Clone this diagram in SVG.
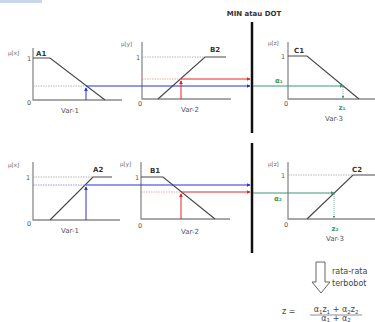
<svg xmlns="http://www.w3.org/2000/svg" width="375" height="322" viewBox="0 0 375 322">
<defs>
<style>
.ax{stroke:#8a8a8a;stroke-width:1.3;fill:none}
.fn{stroke:#4a4a4a;stroke-width:1.2;fill:none}
.gd{stroke:#999;stroke-width:0.7;stroke-dasharray:1.5,1;fill:none}
.bl{stroke:#2633d6;stroke-width:1;fill:none}
.rd{stroke:#e2242a;stroke-width:1;fill:none}
.gr{stroke:#3a9a72;stroke-width:1;fill:none}
.bld{stroke:#6a70e0;stroke-width:0.7;stroke-dasharray:1.5,1;fill:none}
.rdd{stroke:#f08080;stroke-width:0.7;stroke-dasharray:1.5,1;fill:none}
.grd{stroke:#3a9a72;stroke-width:0.7;stroke-dasharray:1,1;fill:none}
.mu{font-family:"DejaVu Sans",sans-serif;font-size:5.5px;fill:#666}
.nm{font-family:"DejaVu Sans",sans-serif;font-size:7px;font-weight:bold;fill:#333}
.lb{font-family:"DejaVu Sans",sans-serif;font-size:7px;fill:#555}
.tk{font-family:"DejaVu Sans",sans-serif;font-size:6.5px;fill:#555}
.ga{font-family:"DejaVu Sans",sans-serif;font-size:7px;fill:#3a9a52;font-weight:bold}
.tx{font-family:"DejaVu Sans",sans-serif;font-size:8px;fill:#444}
.fm{font-family:"DejaVu Sans",sans-serif;font-size:8px;fill:#444}
.sb{font-size:5.5px}
</style>
<marker id="ab" viewBox="0 0 6 6" refX="5" refY="3" markerWidth="4" markerHeight="4" orient="auto"><path d="M0,0L6,3L0,6z" fill="#2633d6"/></marker>
<marker id="ar" viewBox="0 0 6 6" refX="5" refY="3" markerWidth="4" markerHeight="4" orient="auto"><path d="M0,0L6,3L0,6z" fill="#e2242a"/></marker>
<marker id="ag" viewBox="0 0 6 6" refX="5" refY="3" markerWidth="4" markerHeight="4" orient="auto"><path d="M0,0L6,3L0,6z" fill="#3a9a72"/></marker>
</defs>
<rect x="0" y="0" width="42" height="3" fill="#c8d8e8"/>
<text x="254" y="16" class="nm" text-anchor="middle" font-size="8.3">MIN atau DOT</text>
<g id="divider">
<line x1="252" y1="22" x2="252" y2="133" stroke="#111" stroke-width="2.5"/>
<line x1="252" y1="143" x2="252" y2="253" stroke="#111" stroke-width="2.5"/>
</g>
<g id="A1">
<path class="ax" d="M33,48V100H122"/>
<path class="fn" d="M33,58H50L105,100"/>
<text x="8" y="55" class="mu">μ[x]</text>
<text x="36" y="56" class="nm">A1</text>
<text x="29" y="61" class="tk" text-anchor="middle">1</text>
<text x="29" y="105" class="tk" text-anchor="middle">0</text>
<text x="70" y="113" class="lb" text-anchor="middle">Var-1</text>
</g>
<g id="B2">
<path class="ax" d="M142,42V99H231"/>
<path class="fn" d="M158,99L205,57H226"/>
<text x="121" y="46" class="mu">μ[y]</text>
<text x="210" y="52" class="nm">B2</text>
<text x="138" y="60" class="tk" text-anchor="middle">1</text>
<text x="140" y="106" class="tk" text-anchor="middle">0</text>
<text x="190" y="112" class="lb" text-anchor="middle">Var-2</text>
</g>
<g id="C1">
<path class="ax" d="M288,42V99H375"/>
<path class="fn" d="M288,56H307L359,99"/>
<text x="268" y="45" class="mu">μ[z]</text>
<text x="294" y="53" class="nm">C1</text>
<text x="283" y="59" class="tk" text-anchor="middle">1</text>
<text x="286" y="106" class="tk" text-anchor="middle">0</text>
<text x="275" y="83" class="ga" font-weight="normal">α₁</text>
<text x="342" y="110" class="ga" text-anchor="middle">z₁</text>
<text x="334" y="121" class="lb" text-anchor="middle">Var-3</text>
</g>
<g id="A2">
<path class="ax" d="M33,162V220H120"/>
<path class="fn" d="M50,220L93,177H112"/>
<text x="8" y="167" class="mu">μ[x]</text>
<text x="93" y="172" class="nm">A2</text>
<text x="28" y="180" class="tk" text-anchor="middle">1</text>
<text x="29" y="226" class="tk" text-anchor="middle">0</text>
<text x="70" y="233" class="lb" text-anchor="middle">Var-1</text>
</g>
<g id="B1">
<path class="ax" d="M141,162V219H230"/>
<path class="fn" d="M141,177H163L215,219"/>
<text x="120" y="166" class="mu">μ[y]</text>
<text x="150" y="173" class="nm">B1</text>
<text x="137" y="180" class="tk" text-anchor="middle">1</text>
<text x="140" y="228" class="tk" text-anchor="middle">0</text>
<text x="190" y="234" class="lb" text-anchor="middle">Var-2</text>
</g>
<g id="C2">
<path class="ax" d="M288,162V219H375"/>
<path class="fn" d="M307,219L353,175H375"/>
<text x="268" y="166" class="mu">μ[z]</text>
<text x="352" y="172" class="nm">C2</text>
<text x="283" y="178" class="tk" text-anchor="middle">1</text>
<text x="286" y="227" class="tk" text-anchor="middle">0</text>
<text x="274" y="201" class="ga" font-weight="normal">α₂</text>
<text x="335" y="231" class="ga" text-anchor="middle">z₂</text>
<text x="335" y="241" class="lb" text-anchor="middle">Var-3</text>
</g>
<g id="connectors">
<path class="gd" d="M33,86H86"/>
<path class="bl" d="M86,100V88" marker-end="url(#ab)"/>
<path class="bl" d="M86,86H250" marker-end="url(#ab)"/>
<path class="gd" d="M142,57H205"/>
<path class="rdd" d="M142,79H181"/>
<path class="rd" d="M181,99V81" marker-end="url(#ar)"/>
<path class="rd" d="M181,79H250" marker-end="url(#ar)"/>
<path class="gr" d="M253,86H343" marker-end="url(#ag)"/>
<path class="grd" d="M343,87V98" marker-end="url(#ag)"/>
<path class="gd" d="M33,177H93"/>
<path class="bld" d="M33,185H86"/>
<path class="bl" d="M86,220V187" marker-end="url(#ab)"/>
<path class="bl" d="M86,185H250" marker-end="url(#ab)"/>
<path class="rdd" d="M141,192H181"/>
<path class="rd" d="M181,219V194" marker-end="url(#ar)"/>
<path class="rd" d="M181,192H250" marker-end="url(#ar)"/>
<path class="gd" d="M288,175H353"/>
<path class="gr" d="M253,193H334" marker-end="url(#ag)"/>
<path class="grd" d="M334,194V218" marker-end="url(#ag)"/>
<path d="M316,262H325V282H330L321,293L312,282H316Z" fill="#fff" stroke="#555" stroke-width="0.9"/>
</g>
<text x="332" y="274" class="tx">rata-rata</text>
<text x="332" y="286" class="tx">terbobot</text>
<text x="282" y="314" class="fm">z =</text>
<text x="336" y="312" class="fm" text-anchor="middle">α<tspan class="sb" dy="1.5">1</tspan><tspan dy="-1.5">z</tspan><tspan class="sb" dy="1.5">1</tspan><tspan dy="-1.5"> + α</tspan><tspan class="sb" dy="1.5">2</tspan><tspan dy="-1.5">z</tspan><tspan class="sb" dy="1.5">2</tspan></text>
<line x1="310" y1="315" x2="362" y2="315" stroke="#444" stroke-width="0.6"/>
<text x="336" y="321" class="fm" text-anchor="middle">α<tspan class="sb" dy="1">1</tspan><tspan dy="-1"> + α</tspan><tspan class="sb" dy="1">2</tspan></text>
</svg>
